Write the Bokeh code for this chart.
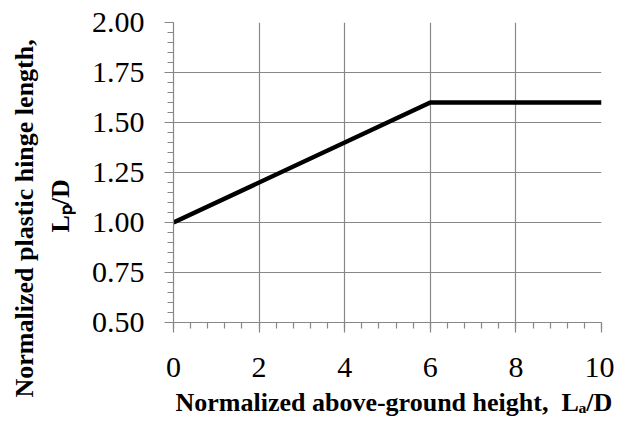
from bokeh.plotting import figure
from bokeh.models import SingleIntervalTicker, NumeralTickFormatter, Title, Range1d
from bokeh.embed import file_html
from bokeh.resources import INLINE

# data
x_vals = [0, 6, 10]
lp_vals = [1.0, 1.6, 1.6]
x_label = "Normalized above-ground height,\u00a0 L\u2090/D"
y_label_line1 = "Normalized plastic hinge length,"
y_label_line2 = "L\u209a/D"

GRAY = "#878787"
FONT = "Liberation Serif"

W, H = 614, 423
FL, FR, FT, FB = 173, 601, 22, 322

p = figure(width=W, height=H, output_backend="svg", toolbar_location=None,
           x_range=Range1d(0, 10), y_range=Range1d(0.5, 2.0),
           min_border_left=FL, min_border_right=W - FR, min_border_top=FT,
           min_border_bottom=H - FB)
p.outline_line_color = None
p.background_fill_color = "white"
p.border_fill_color = "white"

p.line(x_vals, lp_vals, line_color="black", line_width=4.5)

for ax, interval, fmt in ((p.xaxis[0], 2, "0"), (p.yaxis[0], 0.25, "0.00")):
    ax.ticker = SingleIntervalTicker(interval=interval, num_minor_ticks=5)
    ax.formatter = NumeralTickFormatter(format=fmt)
    ax.axis_line_color = GRAY
    ax.axis_line_width = 1.2
    ax.major_tick_line_color = GRAY
    ax.minor_tick_line_color = GRAY
    ax.major_tick_line_width = 1.2
    ax.minor_tick_line_width = 1.2
    ax.major_tick_in = 0
    ax.minor_tick_in = 0
    ax.major_label_text_font = FONT
    ax.major_label_text_font_size = "30px"
    ax.major_label_text_color = "black"

p.xaxis[0].major_tick_out = 10
p.xaxis[0].minor_tick_out = 6
p.xaxis[0].major_label_standoff = 25
p.yaxis[0].major_tick_out = 9
p.yaxis[0].minor_tick_out = 6
p.yaxis[0].major_label_standoff = 20

p.xgrid.ticker = p.xaxis[0].ticker
p.ygrid.ticker = p.yaxis[0].ticker
p.grid.grid_line_color = GRAY
p.grid.grid_line_width = 1.2

def title(text, offset, standoff=0):
    return Title(text=text, align="left", offset=offset, standoff=standoff,
                 text_font=FONT, text_font_style="bold", text_font_size="26px",
                 text_color="black")

# x axis title (below the axis)
p.add_layout(title(x_label, 2, 12), "below")
# y axis title: inner line first (closest to frame), then outer line
p.add_layout(title(y_label_line2, FB - 232, 28), "left")
p.add_layout(title(y_label_line1, FB - 397, -18), "left")

open("out.html", "w").write(file_html(p, INLINE))
